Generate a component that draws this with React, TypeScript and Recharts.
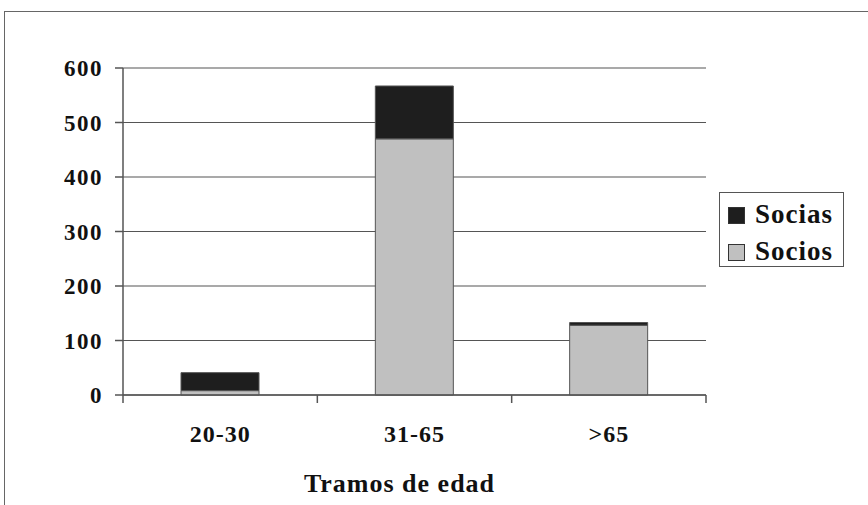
import React from 'react';
import { BarChart, Bar, XAxis, YAxis, CartesianGrid, Legend, Label } from 'recharts';

const categories = ['20-30', '31-65', '>65'];
const sociosValues = [8, 470, 128];
const sociasValues = [33, 97, 5];
const yTicks = [0, 100, 200, 300, 400, 500, 600];
const xAxisTitle = 'Tramos de edad';

const seriesSocias = { key: 'socias', name: 'Socias', color: '#1e1e1e' };
const seriesSocios = { key: 'socios', name: 'Socios', color: '#c0c0c0' };
const legendOrder = [seriesSocias, seriesSocios];

const data = categories.map((c, i) => ({
  cat: c,
  socios: sociosValues[i],
  socias: sociasValues[i],
}));

const FONT = '"Liberation Serif", "Times New Roman", serif';
const LINE = '#555555';

function XTick(props: any) {
  const { x, y, payload, index, width, visibleTicksCount } = props;
  const half =
    payload && typeof payload.offset === 'number' && payload.offset > 0
      ? payload.offset
      : width / visibleTicksCount / 2;
  return (
    <g>
      {index === 0 && (
        <line x1={x - half} x2={x - half} y1={y} y2={y + 8} stroke={LINE} strokeWidth={1.5} />
      )}
      <line x1={x + half} x2={x + half} y1={y} y2={y + 8} stroke={LINE} strokeWidth={1.5} />
      <text
        x={x}
        y={y + 47}
        textAnchor="middle"
        fontFamily={FONT}
        fontWeight="bold"
        fontSize={24}
        letterSpacing={1}
        fill="#111"
      >
        {payload.value}
      </text>
    </g>
  );
}

function YTick(props: any) {
  const { x, y, payload } = props;
  return (
    <text
      x={x}
      y={y}
      dy={8}
      textAnchor="end"
      fontFamily={FONT}
      fontWeight="bold"
      fontSize={23}
      letterSpacing={1.5}
      fill="#111"
    >
      {payload.value}
    </text>
  );
}

function AxisTitle(props: any) {
  const vb = props.viewBox || {};
  return (
    <text
      x={vb.x + vb.width / 2 - 15}
      y={vb.y + 97}
      textAnchor="middle"
      fontFamily={FONT}
      fontWeight="bold"
      fontSize={26}
      letterSpacing={1}
      fill="#111"
    >
      {xAxisTitle}
    </text>
  );
}

function LegendBox() {
  return (
    <div
      style={{
        position: 'relative',
        width: 125,
        height: 75,
        border: `1px solid ${LINE}`,
        boxSizing: 'border-box',
        background: '#fff',
      }}
    >
      {legendOrder.map((s, i) => (
        <div key={s.key}>
          <div
            style={{
              position: 'absolute',
              left: 8,
              top: 14 + i * 37,
              width: 17,
              height: 17,
              boxSizing: 'border-box',
              border: '1px solid #333',
              background: s.color,
            }}
          />
          <div
            style={{
              position: 'absolute',
              left: 35,
              top: 6 + i * 37,
              fontFamily: FONT,
              fontWeight: 'bold',
              fontSize: 27,
              letterSpacing: 1,
              lineHeight: '30px',
              color: '#111',
              whiteSpace: 'nowrap',
            }}
          >
            {s.name}
          </div>
        </div>
      ))}
    </div>
  );
}

export default function App() {
  return (
    <div
      style={{
        position: 'absolute',
        left: 0,
        top: 0,
        width: 868,
        height: 505,
        overflow: 'hidden',
        background: '#fff',
      }}
    >
      <div
        style={{
          position: 'absolute',
          left: 4,
          top: 11,
          width: 900,
          height: 600,
          borderLeft: '1px solid #666',
          borderTop: '1px solid #666',
        }}
      />
      <div style={{ position: 'absolute', left: 0, top: 0 }}>
        <BarChart
          width={868}
          height={505}
          data={data}
          margin={{ top: 68, right: 162, bottom: 0, left: 0 }}
          barSize={78}
        >
          <CartesianGrid vertical={false} stroke={LINE} strokeWidth={1.2} />
          <YAxis
            width={123}
            domain={[0, 600]}
            ticks={yTicks}
            interval={0}
            tickSize={8}
            tickMargin={12}
            axisLine={{ stroke: LINE, strokeWidth: 1.5 }}
            tickLine={{ stroke: LINE, strokeWidth: 1.5 }}
            tick={<YTick />}
          />
          <XAxis
            dataKey="cat"
            height={110}
            tickSize={0}
            tickMargin={0}
            interval={0}
            axisLine={{ stroke: LINE, strokeWidth: 1.5 }}
            tickLine={false}
            tick={<XTick />}
            label={<Label content={<AxisTitle />} />}
          />
          <Legend
            layout="horizontal"
            verticalAlign="middle"
            align="center"
            content={() => <LegendBox />}
            wrapperStyle={{ position: 'absolute', left: 719, top: 192, width: 125, height: 75 }}
          />
          <Bar
            dataKey={seriesSocios.key}
            name={seriesSocios.name}
            stackId="a"
            fill={seriesSocios.color}
            stroke="#555"
            strokeWidth={1}
            isAnimationActive={false}
          />
          <Bar
            dataKey={seriesSocias.key}
            name={seriesSocias.name}
            stackId="a"
            fill={seriesSocias.color}
            stroke="#555"
            strokeWidth={1}
            isAnimationActive={false}
          />
        </BarChart>
      </div>
    </div>
  );
}
